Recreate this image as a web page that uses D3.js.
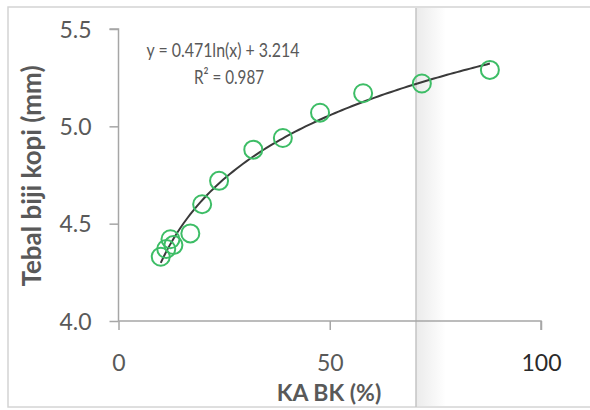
<!DOCTYPE html>
<html><head><meta charset="utf-8">
<script src="https://cdn.jsdelivr.net/npm/d3@7"></script>
<style>html,body{margin:0;padding:0;background:#fff;}svg{display:block;}</style>
</head><body>
<svg id="c" width="590" height="410"></svg>
<script>
// Data (KA BK % vs Tebal biji kopi mm)
const kaBK   = [10.0, 11.3, 12.3, 13.0, 17.0, 19.8, 23.8, 31.9, 38.9, 47.7, 57.9, 71.8, 87.9];
const tebal  = [4.33, 4.37, 4.42, 4.39, 4.45, 4.60, 4.72, 4.88, 4.94, 5.07, 5.17, 5.22, 5.29];
const xTicks = [0, 50, 100];
const yTicks = [4.0, 4.5, 5.0, 5.5];
const coefA = 0.471, coefB = 3.214;
const eqText = "y = 0.471ln(x) + 3.214";
const r2Text = "R² = 0.987";
const xTitle = "KA BK (%)";
const yTitle = "Tebal biji kopi (mm)";

const svg = d3.select("#c");
const font = "Lato, 'Open Sans', sans-serif";
const x = d3.scaleLinear().domain([0, 100]).range([118.5, 541]);
const y = d3.scaleLinear().domain([4.0, 5.5]).range([321, 29]);

// frame
svg.append("rect").attr("x", 8).attr("y", 7).attr("width", 600).attr("height", 400)
  .attr("fill", "#fff").attr("stroke", "#d4d4d4").attr("stroke-width", 1.5);
// shaded band
const defs = svg.append("defs");
const g = defs.append("linearGradient").attr("id", "sh").attr("x1", "0").attr("x2", "1").attr("y1", "0").attr("y2", "0");
g.append("stop").attr("offset", "0").attr("stop-color", "#ebebeb");
g.append("stop").attr("offset", "1").attr("stop-color", "#ffffff");
svg.append("rect").attr("x", 416).attr("y", 8).attr("width", 30).attr("height", 398).attr("fill", "url(#sh)");
svg.append("line").attr("x1", 416).attr("x2", 416).attr("y1", 8).attr("y2", 407)
  .attr("stroke", "#c4c4c4").attr("stroke-width", 1.5);

// axes
const axCol = "#a6a6a6";
const yAxis = svg.append("g").attr("transform", `translate(${x(0)},0)`)
  .call(d3.axisLeft(y).tickValues(yTicks).tickSize(9).tickFormat(d3.format(".1f")));
const xAxis = svg.append("g").attr("transform", `translate(0,${y(4.0)})`)
  .call(d3.axisBottom(x).tickValues(xTicks).tickSize(9).tickFormat(d3.format("d")));
[yAxis, xAxis].forEach(a => {
  a.select(".domain").attr("stroke", axCol).attr("stroke-width", 1.5);
  a.selectAll(".tick line").attr("stroke", axCol).attr("stroke-width", 1.5);
  a.selectAll(".tick text").attr("fill", "#595959").attr("font-family", font).attr("font-size", 23);
});
yAxis.select(".domain").attr("d", `M-9,${y(5.5)}H0V${y(4.0)}`);
xAxis.select(".domain").attr("d", `M${x(0)},0H${x(100)}V9`);
yAxis.selectAll(".tick text").attr("x", -27).attr("dy", "0.36em");
xAxis.selectAll(".tick text").attr("y", 50).attr("dy", "0");
xAxis.selectAll(".tick text").filter(d => d === 100).attr("fill", "#2a2a2a");

// trendline
const tl = d3.range(0, 101).map(i => {
  const xv = d3.min(kaBK) + (d3.max(kaBK) - d3.min(kaBK)) * i / 100;
  return [xv, coefA * Math.log(xv) + coefB];
});
svg.append("path").datum(tl)
  .attr("d", d3.line().x(d => x(d[0])).y(d => y(d[1])))
  .attr("fill", "none").attr("stroke", "#3a3a3a").attr("stroke-width", 2);

// points
svg.append("g").selectAll("circle").data(kaBK.map((v, i) => [v, tebal[i]])).join("circle")
  .attr("cx", d => x(d[0])).attr("cy", d => y(d[1])).attr("r", 9)
  .attr("fill", "none").attr("stroke", "#3dbd66").attr("stroke-width", 2);

// equation
svg.append("text").attr("x", 223).attr("y", 57).attr("text-anchor", "middle")
  .attr("font-family", font).attr("font-size", 20).attr("fill", "#595959")
  .attr("textLength", 153).attr("lengthAdjust", "spacingAndGlyphs").text(eqText);
svg.append("text").attr("x", 229).attr("y", 84).attr("text-anchor", "middle")
  .attr("font-family", font).attr("font-size", 20).attr("fill", "#595959")
  .attr("textLength", 70).attr("lengthAdjust", "spacingAndGlyphs").text(r2Text);

// titles
svg.append("text").attr("x", 329).attr("y", 401).attr("text-anchor", "middle")
  .attr("font-family", font).attr("font-weight", "bold").attr("font-size", 23)
  .attr("fill", "#595959").text(xTitle);
svg.append("text").attr("transform", "translate(41,176) rotate(-90)").attr("text-anchor", "middle")
  .attr("font-family", font).attr("font-weight", "bold").attr("font-size", 26)
  .attr("fill", "#595959").text(yTitle);
</script>
</body></html>
